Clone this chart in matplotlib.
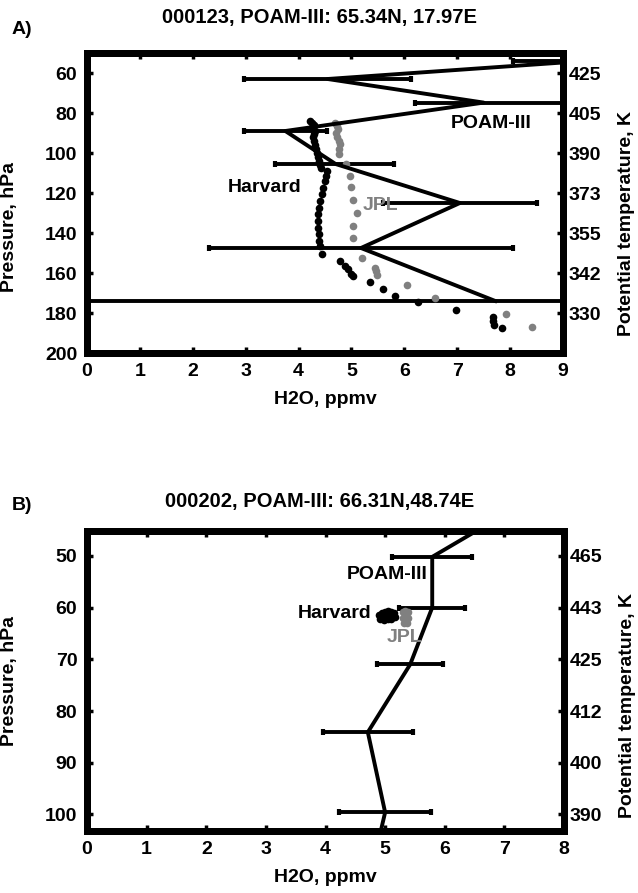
import matplotlib
matplotlib.use('Agg')
import matplotlib.pyplot as plt

plt.rcParams['font.family'] = ['Liberation Sans', 'DejaVu Sans']
plt.rcParams['font.weight'] = 'bold'

# ---- panel A data ----
a_poam_p = [54, 63, 74.8, 89, 105.5, 125, 147.5, 174]
a_poam_x = [9.4, 4.55, 7.5, 3.75, 4.7, 7.05, 5.18, 7.72]
a_poam_err_lo = [1.35, 1.58, 1.3, 0.78, 1.15, 1.45, 2.88, 8.5]
a_poam_err_hi = [1.35, 1.58, 2.0, 0.78, 1.1, 1.45, 2.88, 8.5]

a_harv_x = [4.22, 4.25, 4.3, 4.28, 4.32, 4.3, 4.28, 4.3, 4.32, 4.33, 4.35, 4.37,
            4.38, 4.4, 4.42, 4.53, 4.52, 4.5, 4.47, 4.44, 4.4, 4.39, 4.37, 4.37,
            4.37, 4.39, 4.39, 4.4, 4.44, 4.78, 4.88, 4.94, 5.0, 5.02, 5.35, 5.59,
            5.82, 6.26, 6.98, 7.68, 7.68, 7.69, 7.84]
a_harv_p = [84, 85, 86, 87.5, 89, 90.5, 92, 94, 96, 98, 100, 102,
            104, 106, 107.5, 109, 111.5, 114, 117.3, 120.7, 124, 127.3, 130.7, 134,
            137.3, 140.7, 144, 146.5, 150.3, 154, 156.5, 158, 160.7, 161.5, 164.3, 168.2,
            171.5, 174.3, 178.7, 182, 184, 186, 187.7]

a_jpl_x = [4.68, 4.72, 4.75, 4.7, 4.73, 4.76, 4.78, 4.77, 4.77, 4.9, 4.98, 5.0,
           5.02, 5.11, 5.03, 5.03, 5.2, 5.45, 5.47, 5.48, 6.05, 6.58, 7.93, 8.42]
a_jpl_p = [85, 86.5, 88, 90, 92, 94, 95.5, 98, 100.5, 105.5, 111.5, 116.8,
           123.7, 129.8, 136.5, 142.5, 152.5, 157.5, 159, 161, 166, 172.5, 180.5, 187]

a_left_ticks = [60, 80, 100, 120, 140, 160, 180, 200]
a_theta_ticks = [60, 80, 100, 120, 140, 160, 180]
a_theta_labels = ['425', '405', '390', '373', '355', '342', '330']

# ---- panel B data ----
b_poam_p = [42, 50.2, 60, 71, 84.1, 99.6, 107]
b_poam_x = [7.0, 5.79, 5.79, 5.42, 4.71, 5.0, 4.85]
b_poam_err = [0.0, 0.67, 0.55, 0.55, 0.75, 0.77, 0.0]

b_harv_x = [4.9, 4.95, 5.0, 5.05, 5.1, 5.15, 4.92, 4.98, 5.04, 5.1, 5.16, 4.95, 5.02, 5.08]
b_harv_p = [61.5, 61.0, 60.8, 60.7, 60.8, 61.0, 62.2, 62.4, 62.3, 62.2, 61.8, 61.6, 61.5, 61.4]

b_jpl_x = [5.3, 5.34, 5.38, 5.3, 5.34, 5.38, 5.32, 5.36]
b_jpl_p = [60.8, 60.6, 60.8, 62.0, 61.8, 62.0, 63.0, 63.0]

b_left_ticks = [50, 60, 70, 80, 90, 100]
b_theta_labels = ['465', '443', '425', '412', '400', '390']

W, H = 638, 893
fig = plt.figure(figsize=(W / 100, H / 100), dpi=100)

FS = 14
SPINE = 5.0


def style_axes(ax):
    for s in ax.spines.values():
        s.set_linewidth(SPINE)
    ax.tick_params(direction='in', length=4, width=2.5, labelsize=FS,
                   top=True, right=False, pad=7)
    for lab in ax.get_xticklabels() + ax.get_yticklabels():
        lab.set_fontweight('bold')


def right_axis(ax, ticks, labels, ly):
    ax2 = ax.twinx()
    ax2.set_ylim(ax.get_ylim())
    ax2.set_yticks(ticks)
    ax2.set_yticklabels(labels, fontsize=FS, fontweight='bold')
    ax2.tick_params(direction='in', length=4, width=2.5, pad=4)
    for s in ax2.spines.values():
        s.set_linewidth(SPINE)
    ax2.set_ylabel('Potential temperature, K', fontsize=FS, fontweight='bold')
    ax2.yaxis.set_label_coords(1.115, ly)
    return ax2


# ---------------- panel A ----------------
axA = fig.add_axes([87 / W, 1 - 353 / H, 476 / W, 300 / H])
axA.errorbar(a_poam_x, a_poam_p, xerr=[a_poam_err_lo, a_poam_err_hi], color='k',
             lw=2.8, elinewidth=2.8, capsize=2, capthick=3)
axA.plot(a_jpl_x, a_jpl_p, 'o', color='#808080', ms=5.5, mew=0)
axA.plot(a_harv_x, a_harv_p, 'o', color='k', ms=5.5, mew=0)
axA.set_xlim(0, 9)
axA.set_ylim(200, 50)
axA.set_xticks(range(10))
axA.set_yticks(a_left_ticks)
axA.text(7.64, 85, 'POAM-III', ha='center', va='center', fontsize=FS, fontweight='bold')
axA.text(3.36, 117, 'Harvard', ha='center', va='center', fontsize=FS, fontweight='bold')
axA.text(5.54, 126, 'JPL', ha='center', va='center', fontsize=FS, fontweight='bold',
         color='#808080')
axA.set_xlabel('H2O, ppmv', fontsize=FS, fontweight='bold', labelpad=8)
axA.set_ylabel('Pressure, hPa', fontsize=FS, fontweight='bold')
axA.yaxis.set_label_coords(-0.145, 0.42)
style_axes(axA)
right_axis(axA, a_theta_ticks, a_theta_labels, 0.43)

# ---------------- panel B ----------------
axB = fig.add_axes([87 / W, 1 - 831 / H, 477 / W, 300 / H])
axB.errorbar(b_poam_x, b_poam_p, xerr=b_poam_err, color='k',
             lw=2.8, elinewidth=2.8, capsize=2, capthick=3)
axB.plot(b_jpl_x, b_jpl_p, 'o', color='#808080', ms=5.5, mew=0)
axB.plot(b_harv_x, b_harv_p, 'o', color='k', ms=5.5, mew=0)
axB.set_xlim(0, 8)
axB.set_ylim(103.2, 45.2)
axB.set_xticks(range(9))
axB.set_yticks(b_left_ticks)
axB.text(5.03, 53.7, 'POAM-III', ha='center', va='center', fontsize=FS, fontweight='bold')
axB.text(4.16, 61.1, 'Harvard', ha='center', va='center', fontsize=FS, fontweight='bold')
axB.text(5.32, 65.7, 'JPL', ha='center', va='center', fontsize=FS, fontweight='bold',
         color='#808080')
axB.set_xlabel('H2O, ppmv', fontsize=FS, fontweight='bold', labelpad=8)
axB.set_ylabel('Pressure, hPa', fontsize=FS, fontweight='bold')
axB.yaxis.set_label_coords(-0.145, 0.5)
style_axes(axB)
right_axis(axB, b_left_ticks, b_theta_labels, 0.42)

# titles and panel letters
fig.text(320 / W, 1 - 18 / H, '000123, POAM-III: 65.34N, 17.97E', ha='center', va='center',
         fontsize=14.5, fontweight='bold')
fig.text(320 / W, 1 - 501 / H, '000202, POAM-III: 66.31N,48.74E', ha='center', va='center',
         fontsize=14.5, fontweight='bold')
fig.text(12 / W, 1 - 30 / H, 'A)', ha='left', va='center', fontsize=FS, fontweight='bold')
fig.text(12 / W, 1 - 505 / H, 'B)', ha='left', va='center', fontsize=FS, fontweight='bold')

fig.savefig('out.png', dpi=100)
